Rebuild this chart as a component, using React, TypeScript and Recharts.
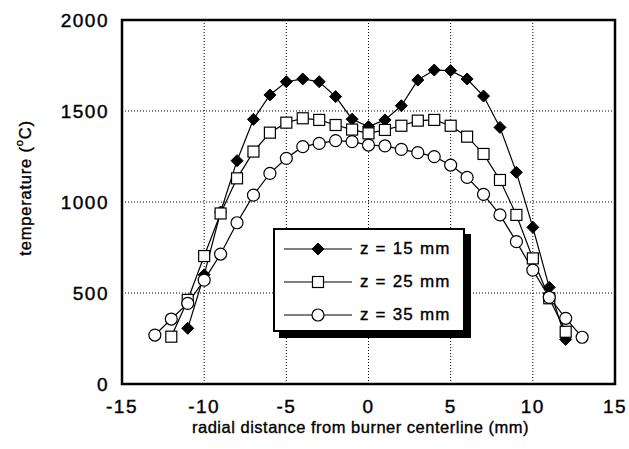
import {
  LineChart,
  Line,
  XAxis,
  YAxis,
  CartesianGrid,
  ReferenceArea,
} from "recharts";

const radialMm = [-13, -12, -11, -10, -9, -8, -7, -6, -5, -4, -3, -2, -1, 0, 1, 2, 3, 4, 5, 6, 7, 8, 9, 10, 11, 12, 13];

const tempZ15 = [null, null, 306, 600, 945, 1227, 1454, 1588, 1661, 1676, 1661, 1579, 1455, 1414, 1451, 1529, 1670, 1725, 1722, 1676, 1582, 1410, 1163, 861, 531, 245, null];
const tempZ25 = [null, 260, 462, 703, 937, 1130, 1277, 1381, 1436, 1460, 1451, 1423, 1398, 1377, 1396, 1419, 1447, 1451, 1419, 1359, 1264, 1121, 929, 690, 471, 287, null];
const tempZ35 = [269, 357, 443, 571, 714, 886, 1038, 1157, 1240, 1304, 1322, 1337, 1332, 1313, 1308, 1289, 1271, 1249, 1203, 1135, 1042, 929, 782, 626, 476, 361, 257];

const xTicks = [-15, -10, -5, 0, 5, 10, 15];
const yTicks = [0, 500, 1000, 1500, 2000];
const seriesNames = ["z = 15 mm", "z = 25 mm", "z = 35 mm"];

const FONT = "'Liberation Sans', Arial, Helvetica, sans-serif";

const chartData = radialMm.map((x, i) => ({
  x,
  z15: tempZ15[i],
  z25: tempZ25[i],
  z35: tempZ35[i],
}));

// marker shapes, sizes fixed (Line passes its own r which we ignore)
function Diamond({ cx, cy }: any) {
  if (cx == null || cy == null) return null;
  const s = 6;
  return (
    <polygon
      points={`${cx},${cy - s} ${cx + s},${cy} ${cx},${cy + s} ${cx - s},${cy}`}
      fill="#000"
      stroke="#000"
    />
  );
}

function Square({ cx, cy }: any) {
  if (cx == null || cy == null) return null;
  const s = 5.5;
  return <rect x={cx - s} y={cy - s} width={s * 2} height={s * 2} fill="#fff" stroke="#000" strokeWidth={1.2} />;
}

function Circle({ cx, cy }: any) {
  if (cx == null || cy == null) return null;
  return <circle cx={cx} cy={cy} r={6} fill="#fff" stroke="#000" strokeWidth={1.2} />;
}

function LegendBox() {
  const marks = [Diamond, Square, Circle];
  return (
    <div
      style={{
        position: "absolute",
        left: 273,
        top: 228,
        width: 188,
        height: 100,
        border: "2px solid #000",
        boxShadow: "6px 6px 0 #000",
        background: "#fff",
        fontFamily: FONT,
      }}
    >
      {seriesNames.map((name, i) => {
        const Mark = marks[i];
        return (
          <div key={name} style={{ display: "flex", alignItems: "center", height: 33, marginTop: i === 0 ? 2 : 0 }}>
            <svg width={80} height={20} style={{ marginLeft: 5 }}>
              <line x1={4} y1={10} x2={72} y2={10} stroke="#000" strokeWidth={1.2} />
              <Mark cx={38} cy={10} />
            </svg>
            <span style={{ fontSize: 17, color: "#000", letterSpacing: 1.2, WebkitTextStroke: "0.35px #000" }}>{name}</span>
          </div>
        );
      })}
    </div>
  );
}

function YTitle() {
  const cx = 25;
  const cy = 188;
  return (
    <text
      x={cx}
      y={cy}
      transform={`rotate(-90 ${cx} ${cy})`}
      textAnchor="middle"
      dominantBaseline="central"
      fontFamily={FONT}
      fontSize={16.5}
      letterSpacing={0.8}
      fill="#000"
      stroke="#000"
      strokeWidth={0.35}
    >
      <tspan>temperature (</tspan>
      <tspan fontSize={11} dy={-6}>o</tspan>
      <tspan dy={6}>C)</tspan>
    </text>
  );
}

function XTitle({ viewBox }: any) {
  return (
    <text
      x={viewBox.x + viewBox.width / 2 - 8}
      y={433}
      textAnchor="middle"
      fontFamily={FONT}
      fontSize={16.5}
      letterSpacing={0.5}
      fill="#000"
      stroke="#000"
      strokeWidth={0.35}
    >
      radial distance from burner centerline (mm)
    </text>
  );
}

export default function App() {
  const tickStyle = {
    fontFamily: FONT,
    fontSize: 19,
    fill: "#000",
    letterSpacing: 1.5,
    stroke: "#000",
    strokeWidth: 0.4,
  };
  return (
    <div style={{ position: "absolute", left: 0, top: 0, width: 629, height: 449, background: "#fff" }}>
      <LineChart width={629} height={449} data={chartData} margin={{ top: 20, right: 14, left: 0, bottom: 0 }}>
        <CartesianGrid
          stroke="#000"
          strokeDasharray="1 2"
          horizontalValues={[500, 1000, 1500]}
          verticalValues={[-10, -5, 0, 5, 10]}
        />
        <XAxis
          dataKey="x"
          type="number"
          domain={[-15, 15]}
          ticks={xTicks}
          height={65}
          tickSize={0}
          tickMargin={16}
          axisLine={false}
          tick={tickStyle}
          label={<XTitle />}
        />
        <YAxis
          type="number"
          domain={[0, 2000]}
          ticks={yTicks}
          width={122}
          tickSize={0}
          tickMargin={13}
          axisLine={false}
          tick={tickStyle}
          label={<YTitle />}
        />
        <ReferenceArea x1={-15} x2={15} y1={0} y2={2000} fill="none" stroke="#000" strokeWidth={2.5} ifOverflow="visible" />
        <Line dataKey="z15" stroke="#000" strokeWidth={1.2} dot={<Diamond />} isAnimationActive={false} />
        <Line dataKey="z25" stroke="#000" strokeWidth={1.2} dot={<Square />} isAnimationActive={false} />
        <Line dataKey="z35" stroke="#000" strokeWidth={1.2} dot={<Circle />} isAnimationActive={false} />
      </LineChart>
      <LegendBox />
    </div>
  );
}
